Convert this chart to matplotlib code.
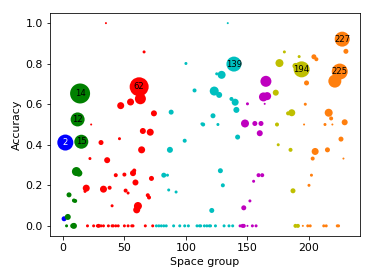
import matplotlib
matplotlib.use("Agg")
import matplotlib.pyplot as plt
import numpy as np

# space group number, accuracy, marker diameter (encodes number of samples)
sg_triclinic = [2, 1]
acc_triclinic = [0.411, 0.035]
d_triclinic = [16, 5]

sg_monoclinic = [14, 12, 15, 11, 13, 5, 9, 10, 4, 3, 8, 9]
acc_monoclinic = [0.653, 0.525, 0.415, 0.268, 0.26, 0.153, 0.125, 0.123, 0.044, 0.0, 0.0, 0.0]
d_monoclinic = [20, 14, 14, 9, 7, 5, 4, 4, 6, 3, 5, 6]

sg_ortho = [35, 66, 62, 63, 55, 47, 74, 23, 65, 71, 46, 31, 64, 22, 36, 43, 50, 57, 58, 59,
            72, 19, 18, 33, 38, 51, 53, 69, 70, 40, 61, 60,
            20, 25, 28, 29, 31, 33, 37, 40, 41, 43, 45, 50, 53, 56, 57, 67, 73]
acc_ortho = [1.0, 0.858, 0.686, 0.627, 0.611, 0.593, 0.555, 0.5, 0.468, 0.462, 0.43, 0.411,
             0.375, 0.332, 0.324, 0.25, 0.253, 0.26, 0.273, 0.214, 0.234, 0.186, 0.17, 0.181,
             0.188, 0.174, 0.162, 0.151, 0.14, 0.099, 0.098, 0.079,
             0, 0, 0, 0, 0, 0, 0, 0, 0, 0, 0, 0, 0, 0, 0, 0, 0]
d_ortho = [2, 3, 19, 11, 7, 7, 6, 2, 6, 7, 3, 5, 7, 3, 6, 4, 4, 6, 4, 6,
           5, 7, 3, 7, 4, 4, 3, 4, 4, 3, 8, 7,
           3, 3, 3, 4, 3, 3, 3, 3, 3, 3, 3, 3, 3, 3, 3, 3, 3]

sg_tetra = [134, 100, 139, 129, 125, 107, 123, 127, 137, 140, 141, 88, 122, 113, 114, 126,
            142, 99, 87, 82, 85, 128, 130, 86, 92, 121,
            76, 78, 80, 82, 84, 90, 95, 99, 102, 109, 111, 112, 115, 117, 119, 120, 124,
            131, 135, 138]
acc_tetra = [1.0, 0.801, 0.798, 0.745, 0.75, 0.668, 0.665, 0.646, 0.626, 0.61, 0.572, 0.561,
             0.543, 0.503, 0.5, 0.5, 0.438, 0.42, 0.375, 0.25, 0.25, 0.272, 0.2, 0.177,
             0.167, 0.076,
             0, 0, 0, 0, 0, 0, 0, 0, 0, 0, 0, 0, 0, 0, 0, 0, 0, 0, 0, 0]
d_tetra = [2, 3, 15, 8, 3, 4, 9, 6, 4, 7, 6, 5, 5, 3, 4, 3, 5, 4, 6, 5, 3, 5, 4, 3, 3, 5,
           3, 3, 3, 3, 3, 3, 3, 3, 3, 3, 3, 3, 3, 3, 3, 3, 3, 3, 3, 3]

sg_trigonal = [165, 163, 166, 150, 164, 148, 156, 161, 160, 159, 162, 155, 152, 147,
               144, 146, 147, 150, 154, 157]
acc_trigonal = [0.713, 0.636, 0.64, 0.602, 0.602, 0.505, 0.505, 0.505, 0.457, 0.25, 0.25,
                0.22, 0.123, 0.089, 0, 0, 0, 0, 0, 0]
d_trigonal = [11, 9, 8, 3, 2, 8, 5, 5, 6, 4, 4, 3, 3, 5, 3, 4, 4, 2, 3, 3]

sg_hexa = [180, 176, 192, 194, 189, 173, 186, 183, 174, 175, 185, 187, 189, 191]
acc_hexa = [0.858, 0.803, 0.835, 0.772, 0.789, 0.657, 0.558, 0.555, 0.5, 0.4, 0.375,
            0.173, 0, 0]
d_hexa = [3, 8, 3, 16, 6, 6, 7, 4, 4, 3, 4, 5, 4, 4]

sg_cubic = [227, 230, 204, 206, 225, 221, 198, 197, 216, 218, 229, 196, 213, 219, 226, 205,
            215, 203, 228, 202, 200, 195, 199, 201, 212, 214, 223, 224]
acc_cubic = [0.921, 0.861, 0.834, 0.822, 0.761, 0.714, 0.705, 0.6, 0.558, 0.53, 0.511, 0.5,
             0.5, 0.5, 0.428, 0.367, 0.375, 0.332, 0.332, 0.25, 0.2, 0, 0, 0, 0, 0, 0, 0]
d_cubic = [15, 5, 5, 4, 16, 13, 5, 3, 8, 4, 6, 2, 3, 2, 5, 7, 5, 4, 2, 3, 3,
           2, 3, 3, 3, 3, 3, 3]

labeled = [2, 12, 14, 15, 62, 139, 194, 225, 227]


def system_color(sg):
    if sg <= 2:
        return 'b'
    if sg <= 15:
        return 'g'
    if sg <= 74:
        return 'r'
    if sg <= 142:
        return 'c'
    if sg <= 167:
        return 'm'
    if sg <= 194:
        return 'y'
    return 'C1'


sg = np.array(sg_triclinic + sg_monoclinic + sg_ortho + sg_tetra + sg_trigonal + sg_hexa + sg_cubic)
acc = np.array(acc_triclinic + acc_monoclinic + acc_ortho + acc_tetra + acc_trigonal + acc_hexa + acc_cubic)
diam = np.array(d_triclinic + d_monoclinic + d_ortho + d_tetra + d_trigonal + d_hexa + d_cubic)
colors = [system_color(s) for s in sg]

fig = plt.figure(figsize=(374 / 72, 280 / 72), dpi=72)
ax = fig.add_axes([50 / 374, 44 / 280, 310 / 374, 223 / 280])
ax.scatter(sg, acc, s=diam.astype(float) ** 2, c=colors, linewidths=0)

done = set()
for s, a, d in zip(sg, acc, diam):
    if s in labeled and d >= 12 and s not in done:
        done.add(s)
        ax.text(s, a, str(s), ha='center', va='center', fontsize=8.5,
                color='white' if s == 2 else 'black')

ax.set_xlabel('Space group', fontsize=11, labelpad=4)
ax.set_ylabel('Accuracy', fontsize=11, labelpad=4)
ax.tick_params(labelsize=11)
ax.set_xticks([0, 50, 100, 150, 200])
ax.set_yticks([0.0, 0.2, 0.4, 0.6, 0.8, 1.0])

fig.savefig('out.png', dpi=72)
